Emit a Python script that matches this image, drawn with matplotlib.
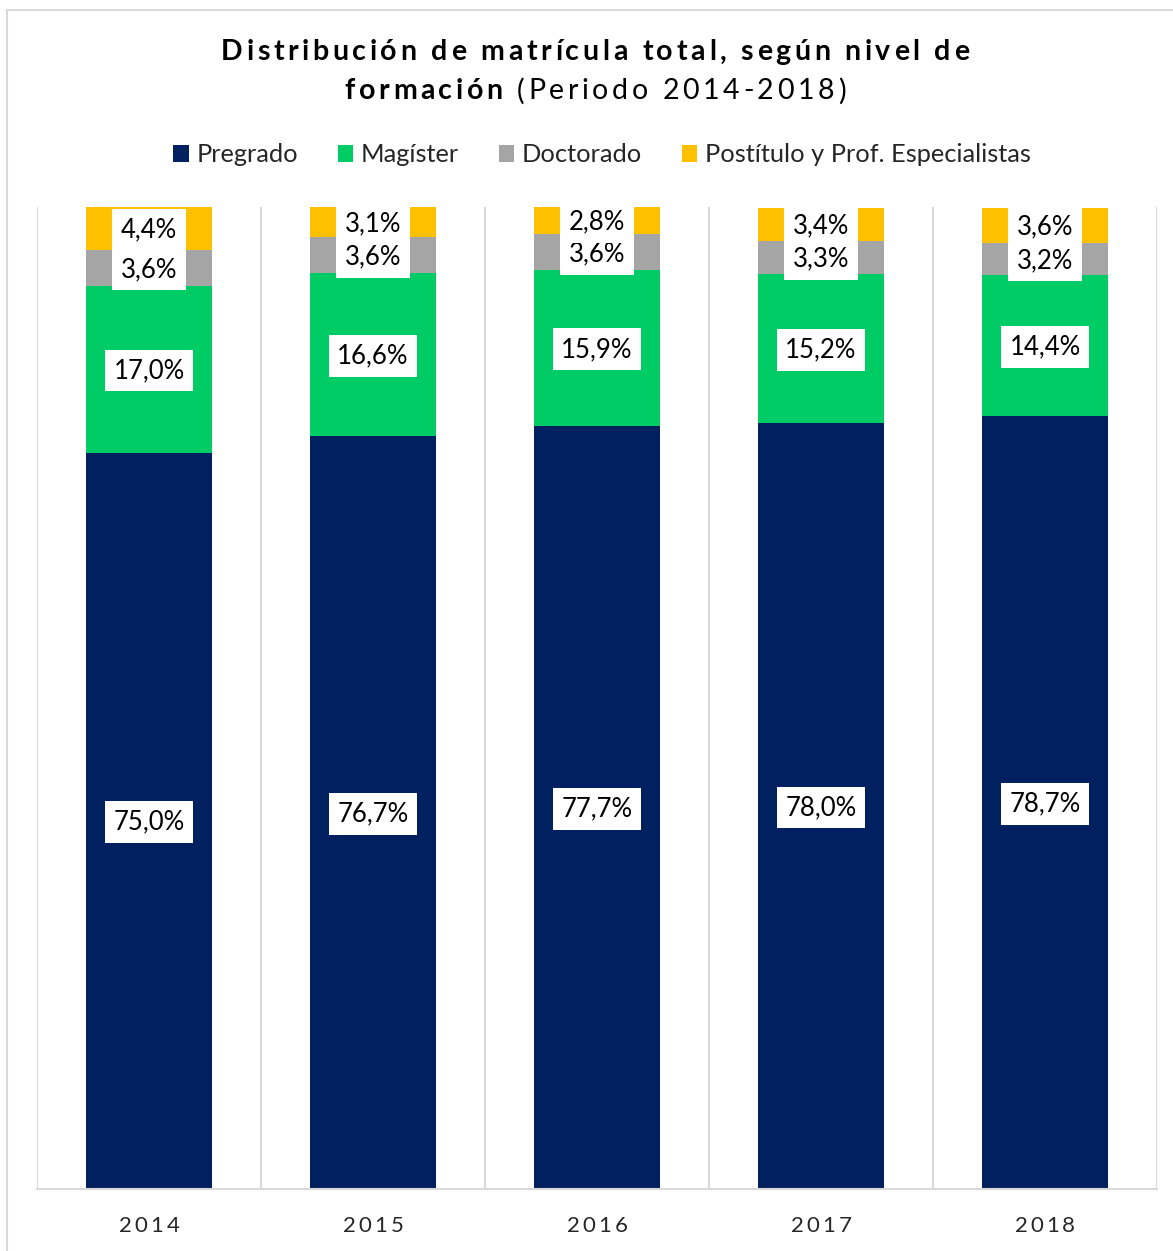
import matplotlib.pyplot as plt
from matplotlib.patches import Patch, Rectangle

years = ['2014', '2015', '2016', '2017', '2018']
series_names = ['Pregrado', 'Magíster', 'Doctorado', 'Postítulo y Prof. Especialistas']
pregrado = [75.0, 76.7, 77.7, 78.0, 78.7]
magister = [17.0, 16.6, 15.9, 15.2, 14.4]
doctorado = [3.6, 3.6, 3.6, 3.3, 3.2]
postitulo = [4.4, 3.1, 2.8, 3.4, 3.6]

colors = ['#002060', '#00CC66', '#A5A5A5', '#FFC000']
FONT = 'Lato'
plt.rcParams['font.family'] = [FONT, 'DejaVu Sans']

W, H = 1173, 1251
fig = plt.figure(figsize=(W / 100, H / 100), dpi=100)
ax = fig.add_axes([37 / W, 1 - 1189 / H, 1120 / W, 982 / H])


def spaced_text(parts, cx, cy, size, spacing, color='black'):
    # draw text char by char with extra letter spacing, centred at (cx, cy) in pixels
    r = fig.canvas.get_renderer()
    chars = []
    for s, w in parts:
        for ch in s:
            t = fig.text(0, 0, ch if ch != ' ' else 'n', fontsize=size, fontweight=w)
            wd = t.get_window_extent(r).width
            if ch == ' ':
                wd *= 0.45
            t.remove()
            chars.append((ch, w, wd))
    total = sum(c[2] for c in chars) + spacing * (len(chars) - 1)
    x = cx - total / 2
    for ch, w, wd in chars:
        if ch != ' ':
            fig.text(x / W, 1 - cy / H, ch, fontsize=size, fontweight=w,
                     color=color, ha='left', va='center')
        x += wd + spacing


data = [pregrado, magister, doctorado, postitulo]
x = list(range(len(years)))
bottom = [0] * len(years)
for vals, name, col in zip(data, series_names, colors):
    bars = ax.bar(x, vals, 0.56, bottom=bottom, color=col, label=name, zorder=2)
    for b, v, bt in zip(bars, vals, bottom):
        ax.text(b.get_x() + b.get_width() / 2, bt + v / 2 - 0.15,
                f'{v:.1f}%'.replace('.', ','), ha='center', va='center',
                fontsize=18.5, color='black', zorder=3,
                bbox=dict(boxstyle='square,pad=0.33', facecolor='white', edgecolor='none'))
    bottom = [a + b for a, b in zip(bottom, vals)]

ax.set_xlim(-0.5, len(years) - 0.5)
ax.set_ylim(0, 100)
ax.set_yticks([])
ax.set_xticks([i - 0.5 for i in range(len(years) + 1)], minor=True)
ax.set_xticks(x)
ax.set_xticklabels([])
ax.tick_params(axis='x', which='both', length=0)
ax.grid(axis='x', which='minor', color='#D9D9D9', linewidth=1.5, zorder=0)
for s in ['left', 'right', 'top']:
    ax.spines[s].set_visible(False)
ax.spines['bottom'].set_color('#D9D9D9')
ax.spines['bottom'].set_linewidth(1.5)

# year labels
fig.canvas.draw()
for i, yr in enumerate(years):
    px = ax.transData.transform((i, 0))[0]
    spaced_text([(yr, 'normal')], px, 1226, 16, 3, color='#262626')

# title
spaced_text([('Distribución de matrícula total, según nivel de', 'bold')], 595, 52, 20.5, 3.6)
spaced_text([('formación', 'bold'), (' (Periodo 2014-2018)', 'normal')], 595, 91, 20.5, 3.6)

handles = [Patch(facecolor=c, edgecolor='none') for c in colors]
fig.legend(handles, series_names, loc='center', bbox_to_anchor=(602 / W, 1 - 155 / H),
           ncol=4, frameon=False, fontsize=18.3, handlelength=0.62, handleheight=0.62,
           handletextpad=0.3, columnspacing=1.55, labelcolor='#262626')

fig.patches.append(Rectangle((7 / W, -0.05), 1.1, 1 - 10 / H + 0.05, transform=fig.transFigure,
                             fill=False, edgecolor='#D9D9D9', linewidth=1.5))

fig.savefig('out.png', dpi=100)
